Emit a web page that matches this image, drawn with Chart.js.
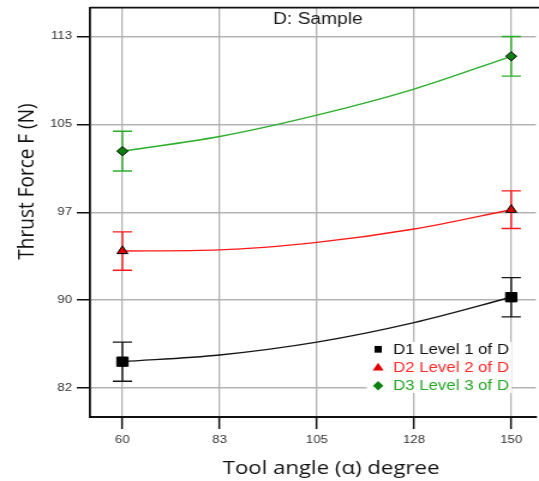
<!DOCTYPE html>
<html>
<head>
<meta charset="utf-8">
<script src="https://cdn.jsdelivr.net/npm/chart.js@4.4.1/dist/chart.umd.min.js"></script>
<style>
  html, body { margin: 0; padding: 0; background: #fff; overflow: hidden; }
  /* the plot is drawn narrow and widened sideways, like the exported figure */
  #wrap { width: 454px; height: 481px; transform: scaleX(1.2004); transform-origin: 0 0; }
</style>
</head>
<body>
<div id="wrap"><canvas id="myChart" width="454" height="481"></canvas></div>
<script>
// x axis: tool angle, ticks and their printed labels
const angleTicks = [60, 82.5, 105, 127.5, 150];
const angleTickLabels = ['60', '83', '105', '128', '150'];
// y axis: thrust force, ticks and their printed labels
const forceTicks = [81.875, 89.625, 97.375, 105.125, 112.875];
const forceTickLabels = ['82', '90', '97', '105', '113'];

const levelNames = ['D1 Level 1 of D', 'D2 Level 2 of D', 'D3 Level 3 of D'];

// fitted curves, one value per angle tick
const curveD1 = [84.21, 84.8, 85.93, 87.65, 89.89];
const curveD2 = [93.96, 94.06, 94.72, 95.9, 97.6];
const curveD3 = [102.76, 104.05, 105.93, 108.23, 111.12];

// design points with error bar half widths
const designAngles = [60, 150];
const meanD1 = [84.21, 89.89];
const meanD2 = [93.96, 97.6];
const meanD3 = [102.76, 111.12];
const errD1 = [1.72, 1.73];
const errD2 = [1.69, 1.66];
const errD3 = [1.75, 1.75];

const lineColors = ['#161616', '#ff1a1a', '#2aae2a'];
const textColors = ['#111111', '#ff2a2a', '#27a627'];
const markerFills = ['#000000', '#e00000', '#0c800c'];
const markerStyles = ['rect', 'triangle', 'rectRot'];
const markerRadius = [6.6, 5.2, 4.6];

const curves = [curveD1, curveD2, curveD3];
const means = [meanD1, meanD2, meanD3];
const errors = [errD1, errD2, errD3];

const curveSets = curves.map((c, i) => ({
  label: levelNames[i] + ' fit',
  data: angleTicks.map((a, j) => ({ x: a, y: c[j] })),
  showLine: true,
  borderColor: lineColors[i],
  borderWidth: 1.4,
  pointRadius: 0,
  cubicInterpolationMode: 'monotone',
  order: 2
}));

const markerSets = means.map((m, i) => ({
  label: levelNames[i],
  data: designAngles.map((a, j) => ({ x: a, y: m[j] })),
  showLine: false,
  pointStyle: markerStyles[i],
  pointRadius: markerRadius[i],
  pointHoverRadius: markerRadius[i],
  backgroundColor: markerFills[i],
  borderColor: '#000',
  borderWidth: 1,
  errors: errors[i],
  errorColor: lineColors[i],
  order: 1
}));

function drawSymbol(ctx, style, x, y, r, fill) {
  ctx.beginPath();
  if (style === 'rect') {
    ctx.rect(x - r * 0.62, y - r * 0.7, r * 1.24, r * 1.4);
  } else if (style === 'triangle') {
    ctx.moveTo(x, y - r);
    ctx.lineTo(x + r * 0.95, y + r * 0.6);
    ctx.lineTo(x - r * 0.95, y + r * 0.6);
    ctx.closePath();
  } else {
    ctx.moveTo(x, y - r);
    ctx.lineTo(x + r * 0.9, y);
    ctx.lineTo(x, y + r);
    ctx.lineTo(x - r * 0.9, y);
    ctx.closePath();
  }
  ctx.fillStyle = fill;
  ctx.fill();
}

// no extra room for the end labels, the plot box is fixed
function noPadding(scale) {
  scale.paddingTop = 0;
  scale.paddingBottom = 0;
  scale.paddingLeft = 0;
  scale.paddingRight = 0;
}

const extras = {
  id: 'extras',
  beforeDatasetsDraw(chart) {
    // error bars, under the markers
    const { ctx, scales: { x, y } } = chart;
    ctx.save();
    chart.data.datasets.forEach(ds => {
      if (!ds.errors) return;
      ctx.strokeStyle = ds.errorColor;
      ctx.lineWidth = 1.4;
      ds.data.forEach((p, j) => {
        const px = x.getPixelForValue(p.x);
        const top = y.getPixelForValue(p.y + ds.errors[j]);
        const bot = y.getPixelForValue(p.y - ds.errors[j]);
        ctx.beginPath();
        ctx.moveTo(px, top); ctx.lineTo(px, bot);
        ctx.moveTo(px - 8, top); ctx.lineTo(px + 8, top);
        ctx.moveTo(px - 8, bot); ctx.lineTo(px + 8, bot);
        ctx.stroke();
      });
    });
    ctx.restore();
  },
  afterDraw(chart) {
    const { ctx, chartArea: area } = chart;
    ctx.save();
    // top frame line
    ctx.strokeStyle = '#111';
    ctx.lineWidth = 1.8;
    ctx.beginPath();
    ctx.moveTo(area.left, area.top);
    ctx.lineTo(chart.width, area.top);
    ctx.stroke();

    // panel title
    ctx.fillStyle = '#1a1a1a';
    ctx.font = '16px "Liberation Sans", Arial, sans-serif';
    ctx.textAlign = 'left';
    ctx.textBaseline = 'alphabetic';
    ctx.fillText('D: Sample', 227.5, 23.5);

    // legend box inside the plot
    ctx.fillStyle = '#fff';
    ctx.fillRect(305.5, 342, 120.5, 51);
    ctx.font = '14px "Liberation Sans", Arial, sans-serif';
    ctx.textBaseline = 'middle';
    levelNames.forEach((name, i) => {
      const yy = 349.3 + i * 18.2;
      drawSymbol(ctx, markerStyles[i], 315, yy, 4.8, markerFills[i]);
      ctx.fillStyle = textColors[i];
      ctx.fillText(name, 327.5, yy + 0.5);
    });

    // axis titles
    ctx.fillStyle = '#111';
    ctx.font = '18.5px "Open Sans", sans-serif';
    ctx.textAlign = 'center';
    ctx.textBaseline = 'alphabetic';
    ctx.fillText('Tool angle (\u03b1) degree', 275.8, 474);
    ctx.translate(27.7, 181.5);
    ctx.rotate(-Math.PI / 2);
    ctx.font = '19px "Open Sans", sans-serif';
    ctx.fillText('Thrust Force F (N)', 0, 0);
    ctx.restore();
  }
};

Chart.defaults.font.family = '"Liberation Sans", Arial, sans-serif';

const config = {
  type: 'scatter',
  data: { datasets: [...markerSets, ...curveSets] },
  options: {
    responsive: false,
    animation: false,
    devicePixelRatio: 1,
    layout: { padding: { top: 5, left: 0, right: 0, bottom: 0 } },
    plugins: {
      legend: { display: false },
      tooltip: { enabled: false }
    },
    scales: {
      x: {
        type: 'linear',
        min: 52.5,
        max: 155.7,
        afterBuildTicks(scale) { scale.ticks = angleTicks.map(v => ({ value: v })); },
        afterFit(scale) { scale.height = 64; noPadding(scale); },
        ticks: {
          callback: (v, i) => angleTickLabels[i],
          color: '#333', padding: 4, maxRotation: 0,
          font: { size: 11 }
        },
        grid: { color: '#b3b3b3', lineWidth: 1.3, tickLength: 12, tickColor: '#111', tickWidth: 1.5 },
        border: { color: '#111', width: 2 }
      },
      y: {
        type: 'linear',
        min: 79.335,
        max: 115.41,
        afterBuildTicks(scale) { scale.ticks = forceTicks.map(v => ({ value: v })); },
        afterFit(scale) { scale.width = 75; noPadding(scale); },
        ticks: {
          callback: (v, i) => forceTickLabels[i],
          color: '#333', padding: 4,
          font: { size: 11 }
        },
        grid: { color: '#b3b3b3', lineWidth: 1.5, tickLength: 11, tickColor: '#111', tickWidth: 1.5 },
        border: { color: '#111', width: 1.8 }
      }
    }
  },
  plugins: [extras]
};

var myChart = new Chart(document.getElementById('myChart'), config);
</script>
</body>
</html>
